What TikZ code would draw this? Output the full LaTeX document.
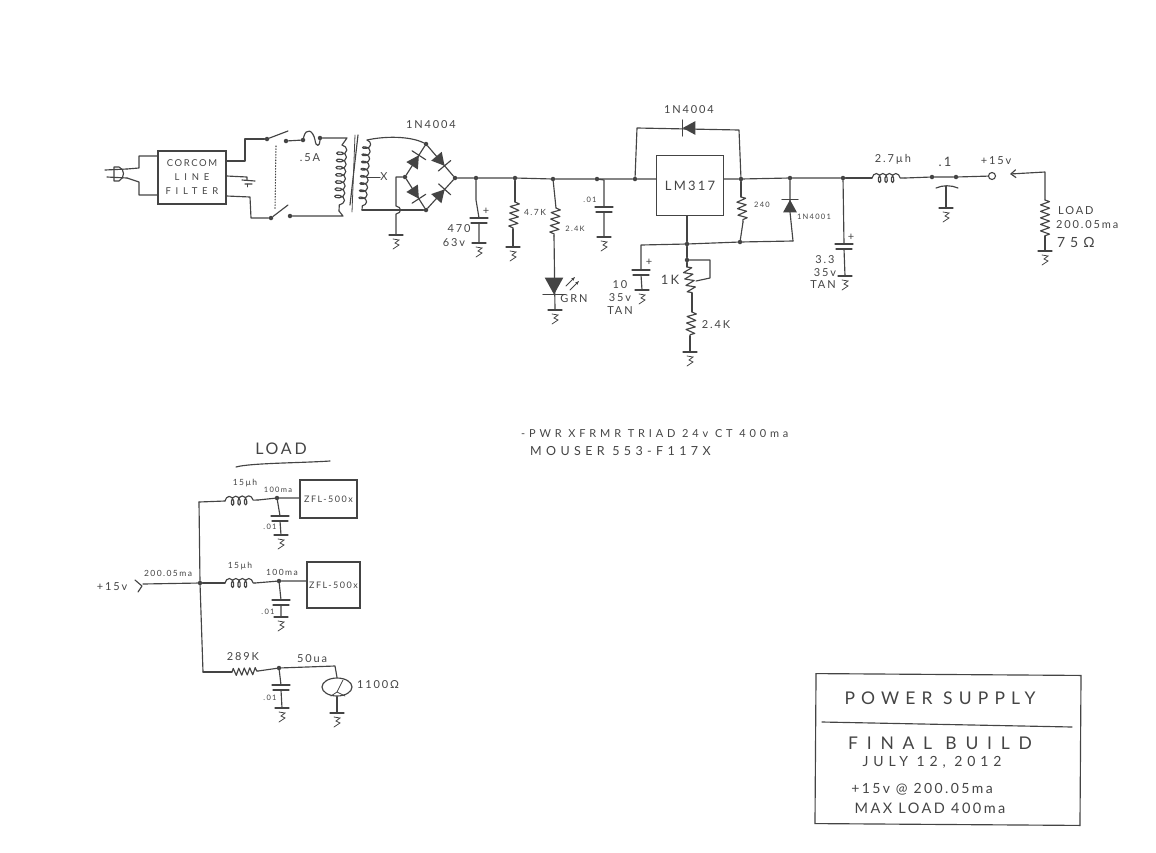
\documentclass[tikz,border=0pt]{standalone}
\usepackage{fontspec}
\setmainfont{Lato}
\newfontfamily\hand{Lato}[LetterSpace=17]
\newfontfamily\handw{Lato}[LetterSpace=35]
\newfontfamily\handx{Lato}[LetterSpace=50]
\usetikzlibrary{decorations.pathmorphing,arrows.meta,shapes.geometric}
\definecolor{ink}{HTML}{444444}
\newcommand\C[3]{\coordinate (#1) at (#2,#3);}
\newcommand\J[3]{\node[jn] (#1) at (#2,#3) {};}
\tikzset{
  wire/.style={draw=ink,line width=1.15pt,line join=round,line cap=round},
  thinw/.style={draw=ink,line width=.8pt,line cap=round},
  jn/.style={circle,fill=ink,draw=none,minimum size=4.5pt,inner sep=0pt},
  term/.style={circle,draw=ink,line width=1.1pt,fill=white,minimum size=7pt,inner sep=0pt},
  hbox/.style={draw=ink,line width=1.15pt,inner sep=0pt,align=center,text=ink},
  txt/.style={text=ink,inner sep=0pt},
  lbl/.style={txt,font=\hand\fontsize{11}{13}\selectfont},
  lblsm/.style={txt,font=\hand\fontsize{8.5}{10}\selectfont},
  lblxs/.style={txt,font=\hand\fontsize{7.5}{8}\selectfont},
  lblmd/.style={txt,font=\hand\fontsize{13}{15}\selectfont},
  zig/.style={wire,decorate,decoration={zigzag,amplitude=4.5pt,segment length=6.5pt}},
  zigh/.style={wire,decorate,decoration={zigzag,amplitude=3.5pt,segment length=5.5pt}},
  cl/.style={wire,decorate,decoration={coil,amplitude=4.5pt,segment length=6.5pt,aspect=.6}},
  gnd/.pic={\coordinate (-t) at (0,0);
    \draw[wire] (-7,0)--(7,0);
    \draw[thinw] (-3,4)--(3,5)--(-1,8)--(3,10)--(-3,14);},
  cap/.pic={\coordinate (-t) at (0,0); \coordinate (-b) at (0,5);
    \draw[wire] (-9,0)--(9,0); \draw[wire] (-8,5)--(8,5);},
  diode/.pic={\fill[ink] (-5,-5.5)--(-5,5.5)--(5,0)--cycle;
    \draw[wire] (5,-6.5)--(5,6.5);},
}
\begin{document}
\begin{tikzpicture}[x=1pt,y=-1pt]
\useasboundingbox (0,0) rectangle (1156,852);
% ---------- input
\C{pa}{105}{170}\C{pb}{127}{169}\C{pc}{107}{177}\C{pd}{127}{178}
\draw[wire] (pa)--(pb) (pc)--(pd);
\draw[wire] (114,167)--(119,167) .. controls (125,169) and (125,178) .. (119,181)--(114,181)--cycle;
\node[hbox,minimum width=68pt,minimum height=53pt,font=\hand\fontsize{9.5}{14}\selectfont] (filter) at (192,177.5) {CORCOM\\{\handx LINE}\\{\handx FILTER}};
\draw[wire] (pb)--(139,168)--(139,156)--(filter.west |- 0,156);
\draw[wire] (pd)--(139,182)--(139,195)--(filter.west |- 0,195);
% switches
\J{s1}{267}{139}\J{s2}{286}{141}\J{s3}{271}{218}\J{s4}{290}{216}
\J{f1}{303}{140}\J{f2}{320}{138}
\C{b1}{288}{131}\C{b2}{288}{205}
\draw[wire] (filter.east |- 0,161)--(245,161)--(245,139)--(s1);
\draw[wire] (filter.east |- 0,196)--(250,197)--(251,218)--(s3);
\draw[wire] (s1)--(b1) (s3)--(b2);
\draw[thinw,dotted,line width=1.1pt] (276,146)--(275,210);
\draw[wire] (filter.east |- 0,176)--(247,177)--(247,180);
\draw[wire] (242,180)--(255,181) (245,184)--(252,184); \draw[thinw] (247,184)--(247,187);
\draw[wire] (s2)--(f1);
\draw[wire] (f1) .. controls (306,127) and (313,130) .. (315,140) .. controls (316,148) and (320,146) .. (f2);
\C{pt}{347}{138}\C{pb2}{343}{216}\C{pc1}{342}{145}\C{pc2}{339}{211}
\draw[wire] (f2)--(pt)--(pc1);
\draw[wire] (s4)--(pb2)--(pc2);
\draw[wire,decorate,decoration={coil,amplitude=5pt,segment length=7.2pt,aspect=.6}] (pc1)--(pc2);
\node[lbl] (lfuse) at (310,158) {.5A};
% core
\draw[wire] (358,135)--(350,205);
\draw[thinw] (355,135)--(352,212);
% secondary
\C{st}{367}{140}\C{sb}{362}{210}
\draw[wire,decorate,decoration={coil,amplitude=4pt,segment length=7.2pt,aspect=.6}] (st)--(sb);
\node[lbl] (lx) at (384,177) {X};
\draw[thinw] (366,177)--(lx.west);
% bridge
\J{bt}{426}{144}\J{br}{455}{178}\J{bb}{426}{210}\J{bl}{405}{177}
\draw[wire] (st) .. controls (385,136) and (410,136) .. (bt);
\draw[wire] (sb)--(bb);
\draw[wire] (bl)--(bt)--(br)--(bb)--(bl);
\pic[rotate=57,scale=1.25] at (415.5,160.5) {diode};
\pic[rotate=-50,scale=1.25] at (440.5,161) {diode};
\pic[rotate=-57,scale=1.25] at (415.5,193.5) {diode};
\pic[rotate=48,scale=1.25] at (440.5,194) {diode};
\node[lbl] (l1n1) at (431,125) {1N4004};
\pic (g0) at (396,235) {gnd};
\C{h0}{396}{177}
\draw[wire] (bl)--(h0)--(396,206) .. controls (402,207) and (402,213) .. (396,214)--(g0-t);
% main rail
\J{j1}{476}{178}\J{j2}{515}{178}\J{j3}{553}{179}\J{j4}{597}{179}\J{j5}{635}{179}
\node[hbox,minimum width=67pt,minimum height=60pt,font=\hand\fontsize{13}{15}\selectfont] (reg) at (690,185.5) {LM317};
\draw[wire] (br)--(j1)--(j2)--(j3)--(j4)--(j5)--(reg.west |- j5);
% C 470
\pic (c1) at (479,218) {cap}; \pic (g1) at (479,243) {gnd};
\draw[wire] (j1)--(476,200)--(c1-t) (c1-b)--(g1-t);
\node[lbl] (lp1) at (486,211) {+};
\node[lbl] (l470) at (459,229) {470};
\node[lbl] (l63) at (454,243) {63v};
% R 4.7K
\C{r1a}{515}{202}\C{r1b}{513}{229}
\pic (g2) at (513,247) {gnd};
\draw[wire] (j2)--(r1a); \draw[zig] (r1a)--(r1b); \draw[wire] (r1b)--(g2-t);
\node[lblsm] (l47) at (535,212) {4.7K};
% R 2.4K + LED
\C{r2a}{556}{208}\C{r2b}{554}{236}
\draw[wire] (j3)--(r2a); \draw[zig] (r2a)--(r2b);
\pic[rotate=-90,scale=1.7] at (554,286) {diode};
\pic (g3) at (555,310) {gnd};
\draw[wire] (r2b)--(g3-t);
\node[lblxs] (l24a) at (575,229) {2.4K};
\node[lbl] (lgrn) at (574,299) {GRN};
\draw[thinw,-{Stealth[length=4pt,width=3pt]}] (566,286)--(575,277);
\draw[thinw,-{Stealth[length=4pt,width=3pt]}] (570,290)--(579,281);
% C .01
\pic (c2) at (604,207) {cap}; \pic (g4) at (604,237) {gnd};
\draw[wire] (j4)--(604,180)--(c2-t) (c2-b)--(g4-t);
\node[lblxs] (l01a) at (590,200) {.01};
% regulator bypass
\J{j6}{741}{179}\J{j7}{790}{178}\J{j8}{843}{178}
\C{bya}{637}{128}\C{byb}{739}{130}
\draw[wire] (j5)--(bya)--(byb)--(j6);
\pic[rotate=180,scale=1.25] at (689,128) {diode};
\node[lbl] (l1n2) at (689,110) {1N4004};
\draw[wire] (reg.east |- j6)--(j6)--(j7)--(j8);
% R 240
\C{r3a}{741}{197}\C{r3b}{743}{222}\J{j9}{740}{242}
\draw[wire] (j6)--(r3a); \draw[zig] (r3a)--(r3b); \draw[wire] (r3b)--(j9);
\node[lblxs] (l240) at (762,205) {240};
% diode 1N4001
\C{d1}{793}{241}
\pic[rotate=90,scale=1.25] at (790,206) {diode};
\draw[wire] (j7)--(790,212)--(d1);
\node[lblxs] (l1n3) at (814,217) {1N4001};
% adj
\J{j10}{687}{244}
\draw[wire] (d1)--(j9)--(j10);
\draw[wire] (j10)--(reg.south -| j10);
\pic (c3) at (641,270) {cap}; \pic (g5) at (642,290) {gnd};
\draw[wire] (j10)--(641,245)--(c3-t) (c3-b)--(g5-t);
\node[lbl] (lp2) at (649,262) {+};
\node[lbl] (l10) at (620,285) {10};
\node[lbl] (l35a) at (620,298) {35v};
\node[lbl] (ltan1) at (620,311) {TAN};
% pot
\J{j11}{687}{260}\C{r4b}{692}{293}\C{r4a}{687}{267}\C{r5a}{692}{312}\C{r5b}{690}{336}
\draw[wire] (j10)--(j11)--(r4a); \draw[zig] (r4a)--(r4b);
\draw[wire] (j11)--(710,260)--(710,278)--(696,281);
\node[lblmd] (l1k) at (670,280) {1K};
\draw[wire] (r4b)--(r5a); \draw[zig] (r5a)--(r5b);
\pic (g6) at (690,352) {gnd};
\draw[wire] (r5b)--(g6-t);
\node[lbl] (l24b) at (716,325) {2.4K};
% C 3.3
\pic (c4) at (844,244) {cap}; \pic (g7) at (845,276) {gnd};
\draw[wire] (j8)--(c4-t) (c4-b)--(g7-t);
\node[lbl] (lp3) at (851,237) {+};
\node[lbl] (l33) at (825,260) {3.3};
\node[lbl] (l35b) at (825,273) {35v};
\node[lbl] (ltan2) at (823,285) {TAN};
% output
\C{l1a}{872}{178}\C{l1b}{905}{178}\J{j12}{932}{177}\J{j13}{956}{177}
\node[term] (out) at (992,176) {};
\draw[wire] (j8)--(l1a); \draw[cl] (l1a)--(l1b); \draw[wire] (l1b)--(j12)--(j13)--(out);
\node[lbl] (l27) at (893,159) {2.7µh};
\node[lblmd] (l1) at (945,162) {.1};
\node[lbl] (l15) at (996,161) {+15v};
\pic (g8) at (946,208) {gnd};
\draw[wire] (936,188) .. controls (943,185) and (951,185) .. (958,188);
\C{c5t}{946}{186}
\draw[wire] (c5t)--(g8-t);
% load
\C{la}{1045}{172}\C{lb}{1045}{200}\C{lc}{1045}{236}\C{ld}{1010}{174}
\draw[wire,-{Straight Barb[length=5pt,width=8pt]}] (lb)--(la)--(ld);
\draw[zig] (lb)--(lc);
\pic (g9) at (1045,251) {gnd};
\draw[wire] (lc)--(g9-t);
\node[lbl,anchor=west] (ll1) at (1058,211) {LOAD};
\node[lbl,anchor=west] (ll2) at (1056,225) {200.05ma};
\node[txt,anchor=west,font=\handw\fontsize{14}{16}\selectfont] (ll3) at (1057,242) {75Ω};
% note
\node[txt,anchor=west,font=\handw\fontsize{11}{13}\selectfont] (n1) at (521,434) {-PWR XFRMR TRIAD 24v CT 400ma};
\node[txt,anchor=west,font=\handw\fontsize{12.5}{14}\selectfont] (n2) at (530,451) {MOUSER 553-F117X};
% ---------- load section
\node[txt,font=\hand\fontsize{16}{18}\selectfont] (lload) at (281,449) {LOAD};
\C{ua}{236}{467}\C{ub}{330}{461}
\draw[wire] (ua) .. controls (250,463) and (300,463) .. (ub);
\node[lbl] (l15v) at (112,587) {+15v};
\J{jm}{200}{583}
\C{ta}{143}{584}
\draw[wire] (ta)--(jm);
\draw[wire] (135,580)--(142,586)--(138,592);
\node[lblsm] (l200) at (168,573) {200.05ma};
\C{m1}{199}{502}\C{m3}{203}{672}
\draw[wire] (m1)--(jm)--(m3);
% branch 1
\C{k1a}{225}{501}\C{k1b}{258}{500}\J{j21}{277}{498}
\node[hbox,minimum width=57pt,minimum height=38pt,font=\hand\fontsize{9}{10}\selectfont] (zfl1) at (328.5,499) {ZFL-500x};
\draw[wire] (m1)--(k1a); \draw[cl] (k1a)--(k1b); \draw[wire] (k1b)--(j21)--(zfl1.west |- j21);
\node[lblsm] (l15u1) at (245,483) {15µh};
\node[lblxs] (l100a) at (278,490) {100ma};
\pic (c21) at (280,516) {cap}; \pic (g21) at (281,535) {gnd};
\draw[wire] (j21)--(c21-t) (c21-b)--(g21-t);
\node[lblxs] (l01b) at (270,527) {.01};
% branch 2
\C{k2a}{225}{583}\C{k2b}{255}{583}\J{j22}{279}{581}
\node[hbox,minimum width=53pt,minimum height=46pt,font=\hand\fontsize{9}{10}\selectfont] (zfl2) at (333.5,585) {ZFL-500x};
\draw[wire] (jm)--(k2a); \draw[cl] (k2a)--(k2b); \draw[wire] (k2b)--(j22)--(zfl2.west |- j22);
\node[lblsm] (l15u2) at (240,566) {15µh};
\node[lblsm] (l100b) at (282,572) {100ma};
\pic (c22) at (281,600) {cap}; \pic (g22) at (281,617) {gnd};
\draw[wire] (j22)--(c22-t) (c22-b)--(g22-t);
\node[lblxs] (l01c) at (268,612) {.01};
% branch 3
\C{k3a}{232}{672}\C{k3b}{258}{671}\J{j23}{279}{668}
\draw[wire] (m3)--(k3a); \draw[zigh] (k3a)--(k3b); \draw[wire] (k3b)--(j23);
\node[lbl] (l289) at (243,657) {289K};
\node[lbl] (l50) at (312,659) {50ua};
\pic (c23) at (281,685) {cap}; \pic (g23) at (282,708) {gnd};
\draw[wire] (j23)--(c23-t) (c23-b)--(g23-t);
\node[lblxs] (l01d) at (270,698) {.01};
\node[draw=ink,line width=1.15pt,ellipse,minimum width=30pt,minimum height=18pt,inner sep=0pt] (lamp) at (337,687) {};
\draw[wire] (j23)--(335,666)--(lamp.north);
\pic (g24) at (337,713) {gnd};
\draw[wire] (lamp.south)--(g24-t);
\draw[thinw] (343,680)--(337,692)--(331,696) (337,692)--(345,696);
\node[lbl] (l1100) at (378,685) {1100Ω};
% ---------- title block
\node[draw=ink,line width=1.15pt,minimum width=265pt,minimum height=150pt,rotate=-.4] (title) at (948,749.5) {};
\C{tda}{822}{722}\C{tdb}{1072}{727}
\draw[wire] (tda)--(tdb);
\node[txt,font=\handw\fontsize{17.5}{20}\selectfont] (t1) at (940,698) {POWER SUPPLY};
\node[txt,font=\handx\fontsize{17.5}{20}\selectfont] (t2) at (940,743) {FINAL BUILD};
\node[txt,font=\handw\fontsize{14}{16}\selectfont] (t3) at (932,762) {JULY 12, 2012};
\node[txt,font=\hand\fontsize{14}{16}\selectfont] (t4) at (922,789) {+15v @ 200.05ma};
\node[txt,font=\hand\fontsize{14.5}{16}\selectfont] (t5) at (930,808) {MAX LOAD 400ma};
\end{tikzpicture}
\end{document}
